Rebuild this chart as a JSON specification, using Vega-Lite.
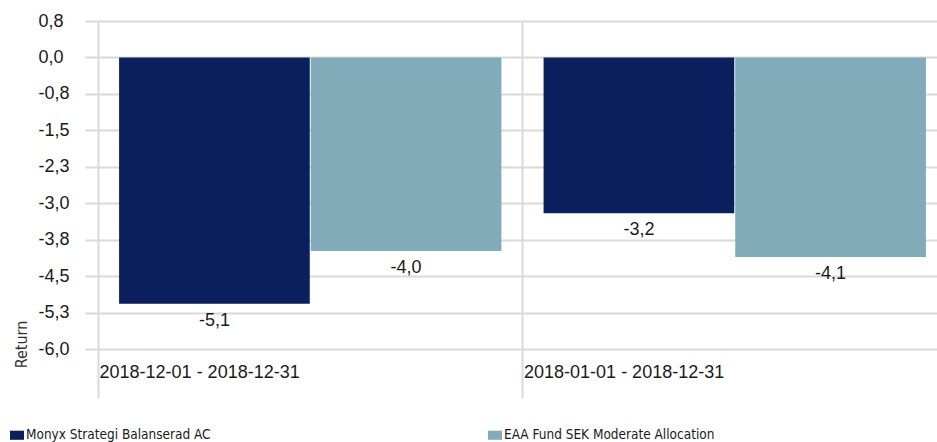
{
  "$schema": "https://vega.github.io/schema/vega-lite/v6.json",
  "width": 839,
  "height": 377,
  "autosize": "none",
  "padding": {"left": 98, "top": 21, "right": 0, "bottom": 44},
  "config": {
    "locale": {"number": {"decimal": ",", "thousands": " ", "grouping": [3], "currency": ["", " kr"], "minus": "-"}},
    "view": {"stroke": null},
    "font": "Liberation Sans"
  },
  "data": {
    "values": [
      {"period": "2018-12-01 - 2018-12-31", "series": "Monyx Strategi Balanserad AC", "value": -5.06},
      {"period": "2018-12-01 - 2018-12-31", "series": "EAA Fund SEK Moderate Allocation", "value": -3.98},
      {"period": "2018-01-01 - 2018-12-31", "series": "Monyx Strategi Balanserad AC", "value": -3.2},
      {"period": "2018-01-01 - 2018-12-31", "series": "EAA Fund SEK Moderate Allocation", "value": -4.1}
    ]
  },
  "encoding": {
    "x": {
      "field": "period",
      "type": "nominal",
      "sort": ["2018-12-01 - 2018-12-31", "2018-01-01 - 2018-12-31"],
      "scale": {"range": [0, 849], "paddingInner": 0, "paddingOuter": 0},
      "axis": {
        "title": null,
        "bandPosition": 0,
        "grid": true,
        "gridColor": "#d9d9d9",
        "gridWidth": 2,
        "domain": false,
        "ticks": false,
        "tickSize": 0,
        "labelAlign": "left",
        "labelBaseline": "alphabetic",
        "labelPadding": -21,
        "labelOffset": -210.7,
        "labelLimit": 0,
        "labelAngle": 0,
        "labelFont": "Liberation Sans",
        "labelFontSize": 18,
        "labelColor": "#1a1a1a"
      }
    },
    "xOffset": {
      "field": "series",
      "type": "nominal",
      "sort": ["Monyx Strategi Balanserad AC", "EAA Fund SEK Moderate Allocation"],
      "scale": {"paddingOuter": 0.11, "paddingInner": 0.005}
    },
    "y": {
      "field": "value",
      "type": "quantitative",
      "scale": {"domain": [-7, 0.75], "nice": false, "zero": false},
      "axis": {
        "values": [0.75, 0, -0.75, -1.5, -2.25, -3, -3.75, -4.5, -5.25, -6],
        "format": ".1f",
        "grid": true,
        "gridColor": "#d9d9d9",
        "gridWidth": 2,
        "domain": false,
        "ticks": true,
        "tickSize": 13,
        "tickColor": "#d9d9d9",
        "tickWidth": 2,
        "labelAlign": "left",
        "labelPadding": 47,
        "labelFont": "Liberation Sans",
        "labelFontSize": 18,
        "labelColor": "#1a1a1a",
        "title": "Return",
        "titleFont": "DejaVu Sans Condensed, Liberation Sans",
        "titleFontSize": 16,
        "titleFontWeight": "normal",
        "titleColor": "#333333",
        "titleAngle": -90,
        "titleX": -77,
        "titleY": 323,
        "titleAlign": "center",
        "titleBaseline": "middle"
      }
    }
  },
  "layer": [
    {
      "mark": {"type": "bar"},
      "encoding": {
        "color": {
          "field": "series",
          "type": "nominal",
          "sort": ["Monyx Strategi Balanserad AC", "EAA Fund SEK Moderate Allocation"],
          "scale": {
            "domain": ["Monyx Strategi Balanserad AC", "EAA Fund SEK Moderate Allocation"],
            "range": ["#0c1f5d", "#82abba"]
          },
          "legend": {
            "orient": "none",
            "legendX": -88,
            "legendY": 407,
            "direction": "horizontal",
            "title": null,
            "symbolType": "M-1,-0.65H1V0.65H-1Z",
            "symbolSize": 196,
            "symbolStrokeWidth": 0,
            "symbolOpacity": 1,
            "labelFont": "DejaVu Sans Condensed, Liberation Sans",
            "labelFontSize": 13.5,
            "labelLimit": 0,
            "labelColor": "#1a1a1a",
            "labelOffset": 2,
            "columnPadding": 277
          }
        }
      }
    },
    {
      "mark": {"type": "text", "dy": 22, "baseline": "alphabetic", "align": "center", "font": "Liberation Sans", "fontSize": 18, "color": "#1a1a1a"},
      "encoding": {
        "text": {"field": "value", "type": "quantitative", "format": ".1f"}
      }
    }
  ]
}
